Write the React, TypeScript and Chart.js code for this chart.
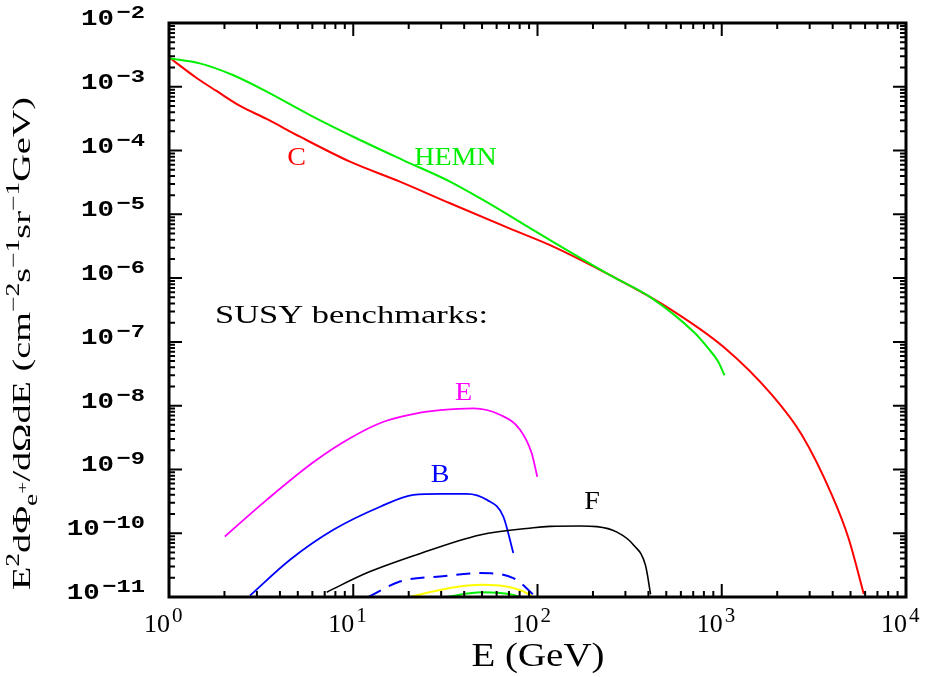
import React, { useEffect, useRef } from "react";
import { Chart, registerables } from "chart.js";

Chart.register(...registerables);

// ---------- data (E in GeV, flux in cm^-2 s^-1 sr^-1 GeV) ----------
const energyC = [1, 1.4, 1.81, 2.43, 3.39, 5.14, 9.6, 17.9, 33.5, 73.6, 117, 249, 507, 1035, 1862, 2717, 3963, 4887, 5902];
const fluxC = [2.9e-3, 1.4e-3, 8.6e-4, 5.0e-4, 3.13e-4, 1.65e-4, 6.7e-5, 3.26e-5, 1.49e-5, 5.7e-6, 3.28e-6, 1.1e-6, 3.48e-7, 8.1e-8, 1.5e-8, 3.5e-9, 3.96e-10, 8.2e-11, 1.11e-11];

const energyHEMN = [1, 1.47, 2.22, 3.39, 5.82, 10.4, 18.6, 33.5, 50.6, 91, 117, 249, 411, 710, 839, 952, 1035];
const fluxHEMN = [2.8e-3, 2.33e-3, 1.53e-3, 8.4e-4, 3.6e-4, 1.56e-4, 7.1e-5, 3.26e-5, 1.68e-5, 6.1e-6, 3.93e-6, 1.1e-6, 5.0e-7, 1.4e-7, 8.1e-8, 5.0e-8, 3.0e-8];

const energyE = [2.01, 3.39, 6.07, 9.6, 14.6, 22.1, 29.6, 44.9, 62.6, 80.4, 93, 99.7];
const fluxE = [8.9e-11, 3.34e-10, 1.3e-9, 3.09e-9, 5.6e-9, 7.6e-9, 8.5e-9, 9.1e-9, 7.2e-9, 4.2e-9, 1.8e-9, 7.7e-10];

const energyB = [2.75, 4.54, 7.8, 14.0, 21.2, 30, 41.3, 53, 65.2, 73.9];
const fluxB = [1.05e-11, 3.83e-11, 1.13e-10, 2.6e-10, 4.0e-10, 4.15e-10, 4.15e-10, 3.34e-10, 1.83e-10, 4.9e-11];

const energyF = [7.18, 11.8, 22.1, 48.7, 95, 117, 170, 210, 270, 333, 386, 411];
const fluxF = [1.19e-11, 2.37e-11, 4.6e-11, 9.4e-11, 1.22e-10, 1.28e-10, 1.3e-10, 1.27e-10, 1.04e-10, 6.5e-11, 3.1e-11, 1.1e-11];

const energyDash = [12.1, 17.9, 29.6, 48.7, 73.9, 100];
const fluxDash = [1.0e-11, 1.75e-11, 2.1e-11, 2.37e-11, 1.98e-11, 9.5e-12];

const energyYellow = [20.3, 33.5, 49.8, 73.9, 91, 95];
const fluxYellow = [1.0e-11, 1.38e-11, 1.55e-11, 1.38e-11, 1.08e-11, 9.8e-12];

const energySmallGreen = [32.1, 49.8, 74, 80];
const fluxSmallGreen = [1.0e-11, 1.19e-11, 1.08e-11, 9.9e-12];

// axis tick labels
const xTickExponents = [0, 1, 2, 3, 4];
const yTickExponents = [-2, -3, -4, -5, -6, -7, -8, -9, -10, -11];

// in-plot annotations: text, E, flux (baseline), colour
const labelTexts = ["C", "HEMN", "SUSY benchmarks:", "E", "B", "F"];
const labelE = [4.92, 35.9, 1.777, 39.7, 29.6, 197.6];
const labelFlux = [5.94e-5, 5.94e-5, 1.99e-7, 1.23e-8, 6.4e-10, 2.44e-10];
const labelColors = ["#ff0000", "#00ee00", "#000000", "#ff00ff", "#0000ff", "#000000"];
const labelAlign = ["center", "center", "left", "center", "center", "center"];

const toXY = (xs: number[], ys: number[]) => xs.map((x, i) => ({ x, y: ys[i] }));

type Seg = { t: string; font: string; dy: number; gap?: number };

function richWidth(ctx: CanvasRenderingContext2D, segs: Seg[]) {
  let w = 0;
  const ws = segs.map((s) => {
    ctx.font = s.font;
    const m = ctx.measureText(s.t).width + (s.gap || 0);
    w += m;
    return m;
  });
  return { w, ws };
}

function drawRich(
  ctx: CanvasRenderingContext2D,
  segs: Seg[],
  x: number,
  y: number,
  align: string,
  sx: number
) {
  const { w, ws } = richWidth(ctx, segs);
  const total = w * sx;
  const start = align === "left" ? x : align === "right" ? x - total : x - total / 2;
  ctx.save();
  ctx.translate(start, y);
  ctx.scale(sx, 1);
  ctx.textAlign = "left";
  ctx.textBaseline = "alphabetic";
  let cx = 0;
  segs.forEach((s, i) => {
    ctx.font = s.font;
    ctx.fillText(s.t, cx + (s.gap || 0), s.dy);
    cx += ws[i];
  });
  ctx.restore();
}

const SERIF = '"Liberation Serif", "Times New Roman", serif';
const MONO = '"Liberation Mono", "Courier New", monospace';

const framePlugin = {
  id: "frameAndText",
  afterDatasetsDraw(chart: any) {
    const ctx: CanvasRenderingContext2D = chart.ctx;
    const xs = chart.scales.x;
    const ys = chart.scales.y;
    const { left, right, top, bottom } = chart.chartArea;
    ctx.save();
    ctx.strokeStyle = "#000";
    ctx.lineCap = "butt";
    // ticks
    ctx.lineWidth = 2;
    const major = 13;
    const minor = 6;
    ctx.beginPath();
    for (let d = 0; d <= 4; d++) {
      for (let m = 1; m <= 9; m++) {
        if (d === 4 && m > 1) break;
        const px = xs.getPixelForValue(m * Math.pow(10, d));
        const len = m === 1 ? major : minor;
        ctx.moveTo(px, bottom);
        ctx.lineTo(px, bottom - len);
        ctx.moveTo(px, top);
        ctx.lineTo(px, top + len);
      }
    }
    for (let d = -11; d <= -2; d++) {
      for (let m = 1; m <= 9; m++) {
        if (d === -2 && m > 1) break;
        const py = ys.getPixelForValue(m * Math.pow(10, d));
        const len = m === 1 ? major : minor;
        ctx.moveTo(left, py);
        ctx.lineTo(left + len, py);
        ctx.moveTo(right, py);
        ctx.lineTo(right - len, py);
      }
    }
    ctx.stroke();
    // frame
    ctx.lineWidth = 3;
    ctx.strokeRect(left, top, right - left, bottom - top);

    ctx.fillStyle = "#000";
    // y tick labels
    yTickExponents.forEach((k) => {
      const py = ys.getPixelForValue(Math.pow(10, k));
      drawRich(
        ctx,
        [
          { t: "10", font: `bold 22px ${MONO}`, dy: 0 },
          { t: "\u2212" + Math.abs(k), font: `bold 19px ${MONO}`, dy: -7, gap: 2 },
        ],
        left - 24,
        py + 2,
        "right",
        1.25
      );
    });
    // x tick labels
    xTickExponents.forEach((k) => {
      const px = xs.getPixelForValue(Math.pow(10, k));
      ctx.font = `26px ${SERIF}`;
      ctx.textAlign = "right";
      ctx.textBaseline = "alphabetic";
      ctx.fillText("10", px + 1, bottom + 35);
      ctx.font = `21px ${SERIF}`;
      ctx.textAlign = "left";
      ctx.fillText(String(k), px + 3, bottom + 25);
    });

    // x title
    {
      const segs: Seg[] = [{ t: "E (GeV)", font: `34px ${SERIF}`, dy: 0 }];
      const { w } = richWidth(ctx, segs);
      drawRich(ctx, segs, (left + right) / 2 + 0.5, bottom + 69, "center", 133 / w);
    }
    // y title (rotated)
    {
      const F = 25;
      const base = `${F}px ${SERIF}`;
      const sup = `${Math.round(F * 0.7)}px ${SERIF}`;
      const tiny = `${Math.round(F * 0.55)}px ${SERIF}`;
      const segs: Seg[] = [
        { t: "E", font: base, dy: 0 },
        { t: "2", font: sup, dy: -F * 0.45 },
        { t: "d\u03A6", font: base, dy: 0 },
        { t: "e", font: sup, dy: F * 0.28 },
        { t: "+", font: tiny, dy: -F * 0.12 },
        { t: "/d\u03A9dE (cm", font: base, dy: 0 },
        { t: "\u22122", font: sup, dy: -F * 0.45 },
        { t: "s", font: base, dy: 0 },
        { t: "\u22121", font: sup, dy: -F * 0.45 },
        { t: "sr", font: base, dy: 0 },
        { t: "\u22121", font: sup, dy: -F * 0.45 },
        { t: "GeV)", font: base, dy: 0 },
      ];
      const { w } = richWidth(ctx, segs);
      ctx.save();
      ctx.translate(30, 590);
      ctx.rotate(-Math.PI / 2);
      drawRich(ctx, segs, 0, 0, "left", 493 / w);
      ctx.restore();
    }

    // annotations
    labelTexts.forEach((t, i) => {
      const px = xs.getPixelForValue(labelE[i]);
      const py = ys.getPixelForValue(labelFlux[i]);
      ctx.fillStyle = labelColors[i];
      const segs: Seg[] = [{ t, font: `26px ${SERIF}`, dy: 0 }];
      let sx = 1.08;
      if (t === "SUSY benchmarks:") {
        const { w } = richWidth(ctx, segs);
        sx = 273 / w;
      }
      drawRich(ctx, segs, px, py, labelAlign[i], sx);
    });
    ctx.restore();
  },
};

export default function App() {
  const ref = useRef<HTMLCanvasElement | null>(null);
  useEffect(() => {
    if (!ref.current) return;
    const line = (xs: number[], ys: number[], color: string, width: number, dash?: number[]) => ({
      data: toXY(xs, ys),
      showLine: true,
      borderColor: color,
      backgroundColor: color,
      borderWidth: width,
      borderDash: dash || [],
      pointRadius: 0,
      pointHoverRadius: 0,
      fill: false,
      cubicInterpolationMode: "monotone",
    });
    const chart = new Chart(ref.current, {
      type: "scatter",
      data: {
        datasets: [
          line(energySmallGreen, fluxSmallGreen, "#00ee00", 2),
          line(energyYellow, fluxYellow, "#ffff00", 2),
          line(energyDash, fluxDash, "#0000ff", 2, [14, 9]),
          line(energyF, fluxF, "#000000", 1.6),
          line(energyB, fluxB, "#0000ff", 1.8),
          line(energyE, fluxE, "#ff00ff", 1.8),
          line(energyHEMN, fluxHEMN, "#00ee00", 2),
          line(energyC, fluxC, "#ff0000", 2),
        ] as any,
      },
      options: {
        animation: false,
        responsive: false,
        devicePixelRatio: 1,
        layout: { padding: { left: 169, right: 25, top: 23, bottom: 80 } },
        plugins: { legend: { display: false }, tooltip: { enabled: false } },
        events: [],
        scales: {
          x: { type: "logarithmic", min: 1, max: 1e4, display: false },
          y: { type: "logarithmic", min: 1e-11, max: 1e-2, display: false },
        },
      } as any,
      plugins: [framePlugin],
    });
    return () => chart.destroy();
  }, []);
  return (
    <div style={{ position: "fixed", left: 0, top: 0, width: 931, height: 677, background: "#fff" }}>
      <canvas ref={ref} width={931} height={677} style={{ display: "block" }} />
    </div>
  );
}
